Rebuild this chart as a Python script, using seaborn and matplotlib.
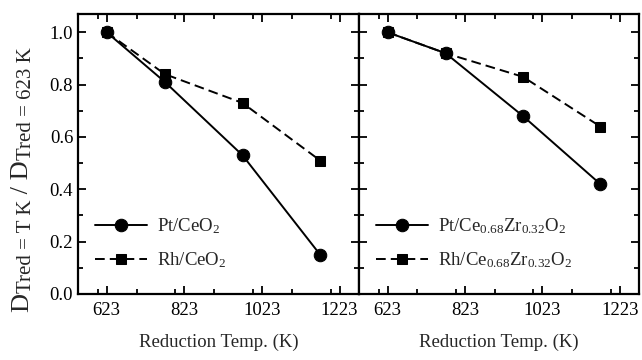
"""Relative dispersion vs reduction temperature, two supports."""

import numpy as np
import pandas as pd
import matplotlib
matplotlib.use("Agg")
import matplotlib.pyplot as plt
import seaborn as sns
from matplotlib.ticker import MultipleLocator

# Data
temps = [623, 773, 973, 1173]
pt_ceo2 = [1.00, 0.81, 0.53, 0.15]
rh_ceo2 = [1.00, 0.84, 0.73, 0.51]
pt_cezr = [1.00, 0.92, 0.68, 0.42]
rh_cezr = [1.00, 0.92, 0.83, 0.64]

x_ticks = [623, 823, 1023, 1223]
left_labels = [r"Pt/CeO$_2$", r"Rh/CeO$_2$"]
right_labels = [r"Pt/Ce$_{0.68}$Zr$_{0.32}$O$_2$", r"Rh/Ce$_{0.68}$Zr$_{0.32}$O$_2$"]
ylabel_parts = ["D", "Tred = T K", " / D", "Tred = 623 K"]

FS = 13.5

sns.set_style("ticks")
plt.rcParams["font.family"] = ["Liberation Serif", "DejaVu Serif"]
plt.rcParams["mathtext.fontset"] = "custom"
plt.rcParams["mathtext.rm"] = "Liberation Serif"
plt.rcParams["mathtext.it"] = "Liberation Serif:italic"
plt.rcParams["font.size"] = FS

fig = plt.figure(figsize=(6.42, 3.60), dpi=100)
W, H = 642, 360
ax1 = fig.add_axes([78 / W, (H - 294) / H, 281 / W, 280 / H])
ax2 = fig.add_axes([359 / W, (H - 294) / H, 280 / W, 280 / H])


def draw(ax, pt, rh, labels):
    sns.lineplot(x=temps, y=pt, ax=ax, color="black", marker="o",
                 markersize=9, markeredgecolor="black", linewidth=1.4,
                 label=labels[0])
    sns.lineplot(x=temps, y=rh, ax=ax, color="black", marker="s",
                 markersize=7, markeredgecolor="black", linewidth=1.4,
                 linestyle=(0, (5, 2.6)), label=labels[1])
    ax.set_xlim(549, 1273)
    ax.set_ylim(0, 1.07)
    ax.set_xticks(x_ticks)
    ax.xaxis.set_minor_locator(MultipleLocator(100))
    ax.yaxis.set_major_locator(MultipleLocator(0.2))
    ax.yaxis.set_minor_locator(MultipleLocator(0.1))
    ax.tick_params(which="both", direction="in", top=True, right=True,
                   width=1.3, labelsize=FS, colors="black")
    ax.tick_params(which="major", length=6)
    ax.tick_params(which="minor", length=3.5)
    ax.tick_params(axis="x", pad=6)
    for sp in ax.spines.values():
        sp.set_linewidth(1.6)
        sp.set_color("black")
    ax.set_xlabel("Reduction Temp. (K)", fontsize=FS, labelpad=10)
    ax.set_ylabel("")
    ax.legend(loc="lower left", bbox_to_anchor=(0.0, 0.025), frameon=False,
              handlelength=2.8, labelspacing=0.75, fontsize=FS,
              handletextpad=0.5)


draw(ax1, pt_ceo2, rh_ceo2, left_labels)
draw(ax2, pt_cezr, rh_cezr, right_labels)

ax1.set_yticks([0, 0.2, 0.4, 0.6, 0.8, 1.0])
ax1.set_yticklabels(["0.0", "0.2", "0.4", "0.6", "0.8", "1.0"])
ax2.tick_params(axis="y", labelleft=False)

# y label built from pieces so the subscripts stay large, as in the original
big, small, drop = 19, 15, 2.2
anchor = fig.text(33 / W, (H - 312) / H, ylabel_parts[0], rotation=90,
                  fontsize=big, ha="right", va="bottom")
for i, part in enumerate(ylabel_parts[1:], start=1):
    is_sub = i % 2 == 1
    anchor = fig.add_artist(plt.Annotation(
        part, xy=(1, 1), xycoords=anchor,
        xytext=(drop if is_sub else -drop, 0), textcoords="offset points",
        rotation=90, fontsize=small if is_sub else big,
        ha="right", va="bottom"))

fig.savefig("out.png", dpi=100)
